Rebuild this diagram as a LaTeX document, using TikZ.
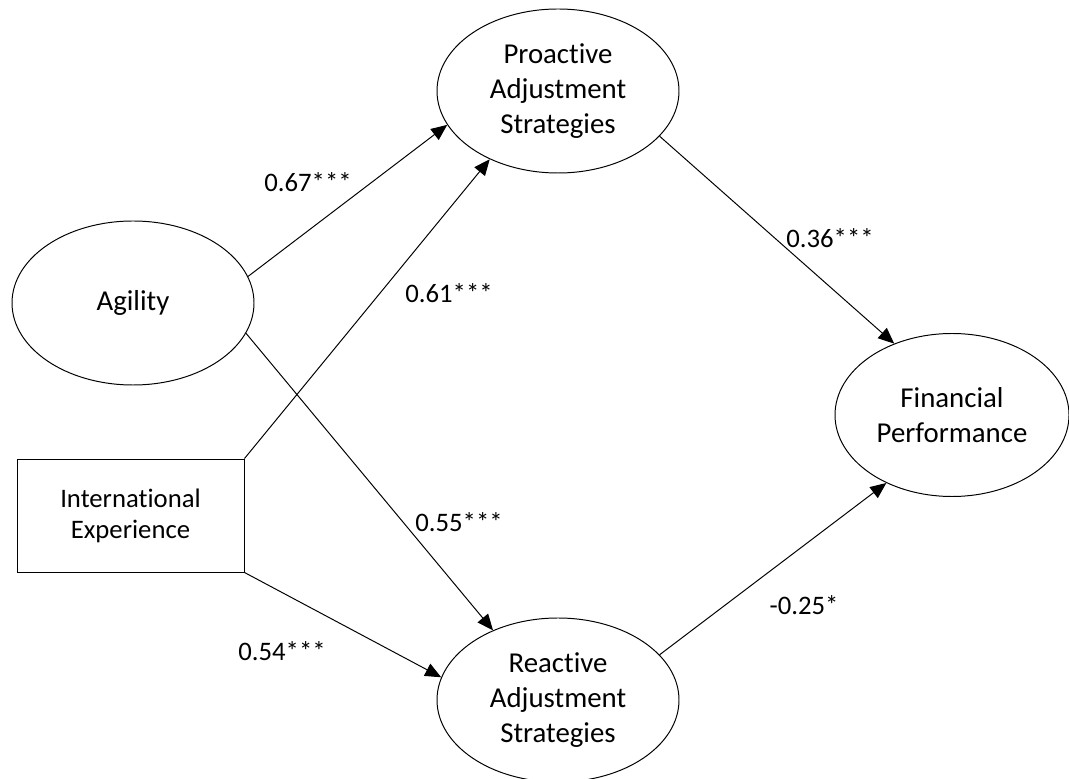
\documentclass[tikz,border=0pt]{standalone}
\usepackage{fontspec}
\setmainfont{Carlito}[Ligatures=NoCommon]
\usetikzlibrary{arrows.meta,shapes.geometric}

\begin{document}
\begin{tikzpicture}[
  latent/.style={
    draw, ellipse, align=center, inner sep=0pt, line width=0.7pt,
    minimum width=6.05cm, minimum height=4.1cm, font=\fontsize{20.5}{25}\selectfont
  },
  observed/.style={
    draw, rectangle, align=center, line width=0.7pt,
    minimum width=5.675cm, minimum height=2.825cm, font=\fontsize{19}{22}\selectfont
  },
  arrow/.style={-{Triangle[length=4mm,width=3.4mm]}, line width=0.7pt},
  coef/.style={font=\fontsize{19}{22}\selectfont}
]
\useasboundingbox (0,0) rectangle (26.725,19.45);

\node[latent] (agility) at (3.325,11.875) {Agility};
\node[latent] (proactive) at (13.95,17.175) {Proactive\\Adjustment\\Strategies};
\node[latent, minimum width=5.85cm, minimum height=4.075cm] (financial) at (23.8,9.075) {Financial\\Performance};
\node[latent] (reactive) at (13.95,1.95) {Reactive\\Adjustment\\Strategies};
\node[observed] (intexp) at (3.2625,6.5625) {International\\Experience};

\draw[arrow] (agility.13) -- (proactive.197);
\draw[arrow] (intexp.north east) -- (proactive.225);
\draw[arrow] (agility.345) -- (reactive.133);
\draw[arrow] (intexp.south east) -- (reactive.169);
\draw[arrow] (proactive.336) -- (financial.129);
\draw[arrow] (reactive.24) -- (financial.226);

\node[coef] (agpro) at (7.7,14.9) {0.67***};
\node[coef] (iepro) at (11.225,12.125) {0.61***};
\node[coef] (agrea) at (11.475,6.4) {0.55***};
\node[coef] (ierea) at (7.05,3.175) {0.54***};
\node[coef] (profin) at (20.75,13.5) {0.36***};
\node[coef] (reafin) at (20.1,4.325) {-0.25*};
\end{tikzpicture}
\end{document}
